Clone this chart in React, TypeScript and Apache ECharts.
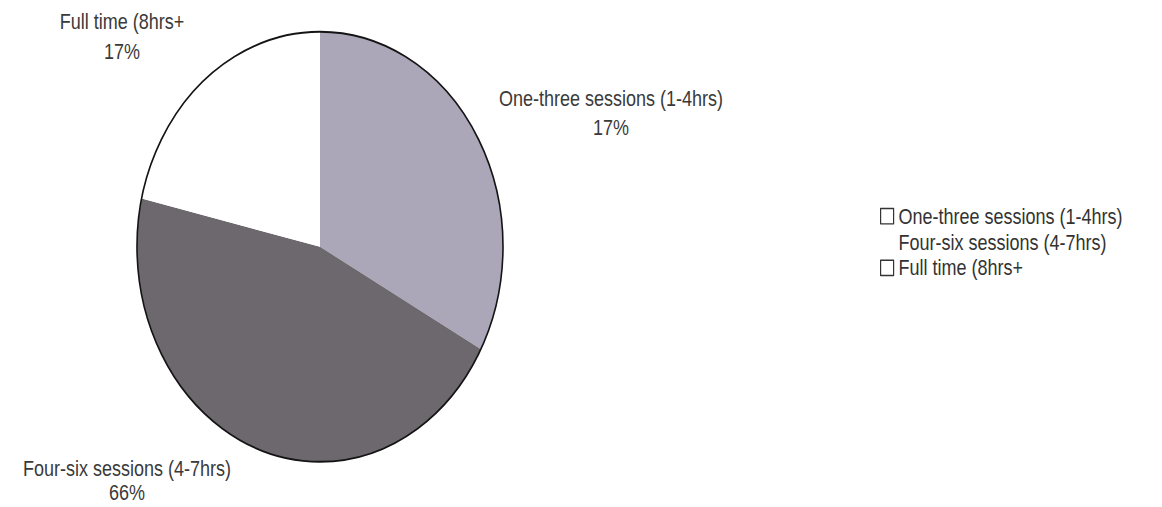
import React, { useEffect, useRef } from "react";
import * as echarts from "echarts";

// ---- data ----
const categories = [
  "One-three sessions (1-4hrs)",
  "Four-six sessions (4-7hrs)",
  "Full time (8hrs+",
];
// slice sizes as drawn (angles measured on the picture)
const sliceValues = [32.9, 45.7, 21.4];
// percentages as printed on the picture
const percentLabels = ["17%", "66%", "17%"];

// ---- styling ----
const sliceColors = ["#aca7b8", "#6c686d", "#ffffff"];
const legendIconFill = ["#ffffff", "rgba(0,0,0,0)", "#ffffff"];
const legendIconBorder = ["#333333", "rgba(0,0,0,0)", "#333333"];
const labelAnchors = [
  [611, 96],
  [127, 409],
  [122, 31],
];
const labelLineHeights = [25, 20, 25];

const WIDTH = 1162;
const HEIGHT = 507;
const STRETCH = 1.175; // the original chart is stretched vertically
const INNER_H = HEIGHT / STRETCH;
const FONT = '"Liberation Sans", Arial, sans-serif';

export default function App() {
  const ref = useRef<HTMLDivElement>(null);

  useEffect(() => {
    if (!ref.current) return;
    const chart = echarts.init(ref.current, undefined, { renderer: "svg" });
    const center = [320, 210];
    const radius = 183;
    chart.setOption({
      animation: false,
      backgroundColor: "#ffffff",
      textStyle: { fontFamily: FONT },
      legend: {
        orient: "vertical",
        left: 875,
        top: 170,
        itemWidth: 13,
        itemHeight: 13,
        itemGap: 4,
        icon: "rect",
        selectedMode: false,
        textStyle: { fontSize: 18, lineHeight: 18, color: "#333333", fontFamily: FONT },
        data: categories.map((name, i) => ({
          name,
          itemStyle: {
            color: legendIconFill[i],
            borderColor: legendIconBorder[i],
            borderWidth: 1.2,
          },
        })),
      },
      series: [
        {
          type: "pie",
          center,
          radius,
          startAngle: 90,
          clockwise: true,
          silent: true,
          avoidLabelOverlap: false,
          itemStyle: { borderWidth: 0 },
          emphasis: { disabled: true },
          label: {
            show: true,
            position: "outside",
            align: "center",
            fontSize: 18,
            lineHeight: 25,
            color: "#3a3a3a",
            fontFamily: FONT,
            formatter: (p: any) => `${p.name}\n${percentLabels[p.dataIndex]}`,
          },
          labelLine: { show: false },
          labelLayout: (p: any) => ({
            x: labelAnchors[p.dataIndex][0],
            y: labelAnchors[p.dataIndex][1],
            align: "center",
            verticalAlign: "middle",
          }),
          data: categories.map((name, i) => ({
            name,
            value: sliceValues[i],
            itemStyle: { color: sliceColors[i] },
            label: { lineHeight: labelLineHeights[i] },
          })),
        },
        {
          type: "pie",
          center,
          radius,
          silent: true,
          emphasis: { disabled: true },
          label: { show: false },
          labelLine: { show: false },
          itemStyle: {
            color: "rgba(0,0,0,0)",
            borderColor: "#141414",
            borderWidth: 1.6,
          },
          z: 5,
          data: [{ name: "outline", value: 1 }],
        },
      ],
    });
    return () => chart.dispose();
  }, []);

  return (
    <div
      style={{
        position: "absolute",
        left: 0,
        top: 0,
        width: WIDTH,
        height: HEIGHT,
        overflow: "hidden",
        background: "#ffffff",
      }}
    >
      <div
        ref={ref}
        style={{
          width: WIDTH,
          height: INNER_H,
          transform: `scaleY(${STRETCH})`,
          transformOrigin: "top left",
        }}
      />
    </div>
  );
}
